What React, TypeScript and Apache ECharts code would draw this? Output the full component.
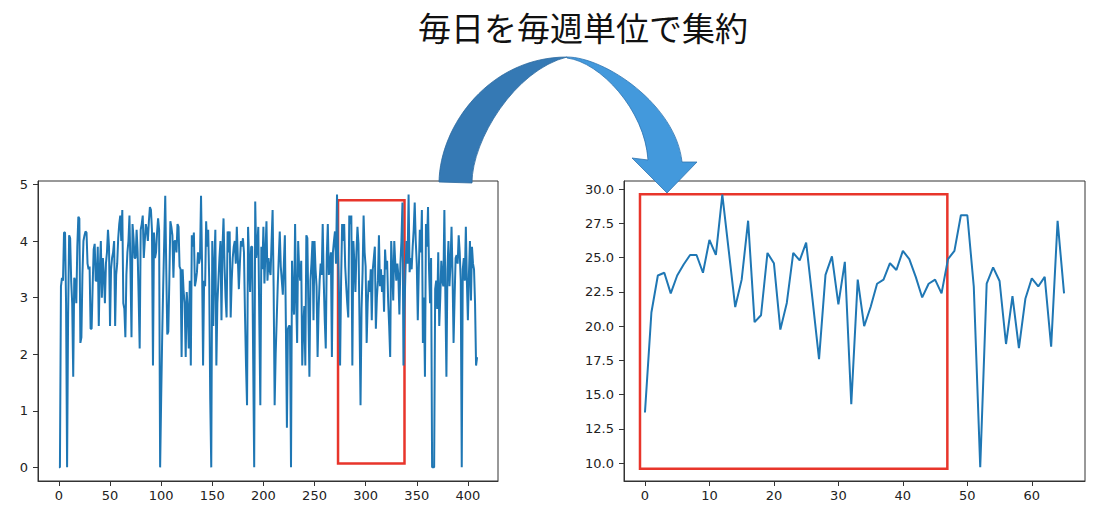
import React, { useEffect, useRef } from "react";
import * as echarts from "echarts";

// ---- data ----
const TITLE = "毎日を毎週単位で集約";

const dailyA = [
  0, 0, 3.2, 3.35, 3.3, 4.15, 4.15, 2.9, 0, 2.7,
  4.1, 4.05, 3.3, 2.9, 1.6, 3.35, 3.3, 2.9, 3.9, 4.43,
  4.4, 2.2, 2.3, 3.4, 4.0, 4.1, 4.17, 4.15, 3.6, 3.5,
  3.55, 2.45, 2.45, 3.2, 3.85, 3.95, 3.3, 3.3, 3.9, 2.5,
  3.5, 4.0, 3.0, 3.7, 3.4, 2.9, 3.6, 3.8, 4.2, 3.9,
  2.5, 3.5, 3.7, 3.8, 4.0, 2.5, 3.4, 3.6, 4.05, 4.3,
  4.45, 4.0, 4.55, 2.9, 2.8, 2.3, 3.4, 3.8, 4.0, 4.45,
  3.5, 2.3, 4.3, 4.05, 3.7, 3.7, 4.2, 3.8, 3.0, 2.1,
  4.2, 4.3, 4.45, 3.7, 4.0, 4.3, 4.2, 4.0, 4.35, 4.6,
  4.55, 4.2, 1.8, 4.15, 3.7, 3.8, 4.15, 4.4, 4.2, 0,
];
const dailyB = [
  1.2, 2.3, 3.2, 4.0, 4.8, 3.5, 2.35, 2.4, 3.3, 4.35,
  4.25, 4.1, 3.35, 4.0, 4.0, 3.8, 4.3, 4.25, 3.55, 3.5,
  1.95, 3.5, 3.1, 2.9, 1.95, 3.1, 2.8, 2.1, 3.3, 1.8,
  4.1, 3.9, 4.15, 3.2, 3.3, 3.45, 3.8, 3.6, 3.7, 4.8,
  3.6, 1.8, 3.3, 3.2, 4.35, 3.9, 4.2, 3.3, 1.2, 0,
  4.0, 2.5, 3.6, 4.2, 1.8, 2.9, 3.3, 3.7, 4.0, 2.6,
  3.9, 4.4, 3.55, 3.0, 2.65, 4.17, 3.8, 4.17, 2.65, 3.3,
  3.7, 3.9, 4.0, 3.6, 4.25, 3.7, 3.15, 3.6, 4.0, 3.9,
  4.05, 3.8, 2.7, 1.8, 1.1, 4.25, 3.7, 3.1, 3.9, 3.9,
  1.9, 0, 4.7, 3.7, 3.9, 4.25, 2.6, 1.1, 3.9, 3.5,
];
const dailyC = [
  4.25, 3.25, 3.8, 4.35, 3.3, 3.7, 3.5, 3.4, 4.0, 4.55,
  3.2, 1.1, 2.0, 2.6, 3.2, 3.7, 4.17, 3.55, 3.3, 3.05,
  3.6, 4.1, 2.5, 0.7, 2.45, 2.5, 2.5, 0, 3.65, 3.0,
  2.7, 4.3, 3.0, 2.2, 4.0, 3.5, 3.3, 3.65, 1.8, 2.5,
  2.85, 1.8, 4.1, 4.05, 2.8, 1.6, 3.3, 3.6, 4.0, 2.6,
  4.0, 3.5, 3.2, 1.95, 2.8, 3.3, 3.6, 3.4, 4.3, 3.3,
  2.6, 2.1, 3.75, 4.3, 3.4, 3.6, 3.8, 1.95, 3.8, 4.0,
  4.17, 3.6, 4.82, 3.8, 3.0, 1.8, 3.3, 4.3, 4.0, 4.3,
  3.55, 3.2, 2.9, 2.65, 4.45, 4.3, 4.45, 1.8, 4.0, 3.6,
  3.1, 3.8, 4.25, 3.95, 2.6, 1.1, 2.8, 3.45, 4.45, 3.8,
];
const dailyD = [
  3.55, 2.2, 2.9, 3.3, 3.1, 3.5, 2.6, 3.5, 3.7, 3.9,
  2.45, 3.0, 3.3, 4.1, 3.2, 3.5, 3.1, 3.4, 2.75, 3.85,
  3.5, 3.65, 2.95, 2.5, 1.95, 4.0, 3.5, 2.95, 4.0, 3.6,
  3.3, 3.6, 3.4, 2.7, 3.6, 4.0, 4.68, 1.8, 2.8, 3.5,
  4.0, 3.6, 4.82, 3.45, 3.7, 3.5, 3.9, 4.2, 4.68, 4.0,
  3.6, 2.6, 3.5, 4.2, 3.8, 4.55, 2.2, 3.0, 1.6, 4.3,
  3.9, 4.6, 3.5, 2.9, 3.7, 0, 0, 0, 3.15, 3.3,
  2.8, 3.8, 2.5, 3.0, 3.65, 3.3, 3.2, 4.55, 3.0, 1.6,
  3.5, 4.0, 3.2, 3.6, 4.25, 3.4, 2.2, 3.0, 3.7, 3.75,
  3.6, 4.1, 3.8, 3.3, 0, 3.5, 3.7, 3.3, 4.25, 3.3,
  2.6, 3.4, 4.0, 2.95, 3.9, 3.6, 3.5, 2.9, 1.8, 1.95,
];
const dailyValues = [...dailyA, ...dailyB, ...dailyC, ...dailyD];

const weeklyValues = [
  13.7, 21.0, 23.7, 23.9, 22.4, 23.7, 24.5, 25.2, 25.2, 23.9,
  26.3, 25.2, 29.6, 25.5, 21.4, 23.4, 27.7, 20.3, 20.8, 25.35,
  24.6, 19.75, 21.7, 25.35, 24.8, 26.1, 21.9, 17.6, 23.75, 25.1,
  21.6, 24.7, 14.3, 23.4, 20.0, 21.4, 23.1, 23.4, 24.6, 24.1,
  25.5, 24.9, 23.6, 22.1, 23.1, 23.4, 22.4, 24.9, 25.5, 28.1,
  28.1, 22.9, 9.7, 23.1, 24.3, 23.3, 18.7, 22.2, 18.4, 22.0,
  23.5, 22.9, 23.6, 18.5, 27.7, 22.4,
];

const dailyXTicks = [0, 50, 100, 150, 200, 250, 300, 350, 400];
const dailyYTicks = [0, 1, 2, 3, 4, 5];
const weeklyXTicks = [0, 10, 20, 30, 40, 50, 60];
const weeklyYTicks = [10, 12.5, 15, 17.5, 20, 22.5, 25, 27.5, 30];

// highlighted ranges (data coordinates)
const dailyBox = [[273, 4.72], [338, 0.07]];
const weeklyBox = [[-0.77, 29.63], [46.9, 9.6]];

// curved arrow outline (page pixels)
const ARROW_BACK = "M 439 182 C 440 125 490 57 567 57 C 515 70 472 140 472 183 Z";
const ARROW_FRONT =
  "M 567 57 C 605 57 676 105 682 162 L 697 162 L 667 193 L 632 158 L 648 160 C 645 110 600 62 567 58 Z";

echarts.graphic.registerShape("arrowBack", echarts.graphic.extendPath(ARROW_BACK, {}));
echarts.graphic.registerShape("arrowFront", echarts.graphic.extendPath(ARROW_FRONT, {}));

const LABEL_FONT = "DejaVu Sans";
const AXIS_COLOR = "#333";
const LABEL_COLOR = "#222";
const LINE_COLOR = "#1f77b4";
const BOX_COLOR = "#e8352b";

function axisBase(ticks: number[], margin: number, fmt?: (v: number) => string) {
  return {
    type: "value",
    splitLine: { show: false },
    axisLine: { show: true, onZero: false, lineStyle: { color: AXIS_COLOR, width: 1 } },
    axisTick: {
      show: true,
      inside: false,
      length: 5,
      customValues: ticks,
      lineStyle: { color: AXIS_COLOR, width: 1 },
    },
    axisLabel: {
      show: true,
      customValues: ticks,
      margin,
      fontSize: 13,
      fontFamily: LABEL_FONT,
      color: LABEL_COLOR,
      formatter: fmt ? (v: number) => fmt(v) : (v: number) => String(v),
    },
  };
}

export default function App() {
  const ref = useRef<HTMLDivElement>(null);

  useEffect(() => {
    if (!ref.current) return;
    const chart = echarts.init(ref.current, null, { renderer: "svg" });

    const option: any = {
      animation: false,
      backgroundColor: "#ffffff",
      grid: [
        {
          left: 38, top: 181, width: 460, height: 300,
          show: true, borderColor: AXIS_COLOR, borderWidth: 1, backgroundColor: "#fff",
        },
        {
          left: 624, top: 181, width: 461, height: 300,
          show: true, borderColor: AXIS_COLOR, borderWidth: 1, backgroundColor: "#fff",
        },
      ],
      xAxis: [
        { ...axisBase(dailyXTicks, 8), gridIndex: 0, min: -20.45, max: 429.45 },
        { ...axisBase(weeklyXTicks, 8), gridIndex: 1, min: -3.25, max: 68.25 },
      ],
      yAxis: [
        { ...axisBase(dailyYTicks, 10), gridIndex: 0, min: -0.241, max: 5.061 },
        {
          ...axisBase(weeklyYTicks, 10, (v) => v.toFixed(1)),
          gridIndex: 1, min: 8.7, max: 30.6,
        },
      ],
      series: [
        {
          type: "line",
          xAxisIndex: 0,
          yAxisIndex: 0,
          data: dailyValues.map((v, i) => [i, v]),
          showSymbol: false,
          symbol: "none",
          lineStyle: { color: LINE_COLOR, width: 2 },
          itemStyle: { color: LINE_COLOR },
          markArea: {
            silent: true,
            itemStyle: { color: "rgba(0,0,0,0)", borderColor: BOX_COLOR, borderWidth: 2.5 },
            data: [[{ coord: dailyBox[0] }, { coord: dailyBox[1] }]],
          },
        },
        {
          type: "line",
          xAxisIndex: 1,
          yAxisIndex: 1,
          data: weeklyValues.map((v, i) => [i, v]),
          showSymbol: false,
          symbol: "none",
          lineStyle: { color: LINE_COLOR, width: 2 },
          itemStyle: { color: LINE_COLOR },
          markArea: {
            silent: true,
            itemStyle: { color: "rgba(0,0,0,0)", borderColor: BOX_COLOR, borderWidth: 2.5 },
            data: [[{ coord: weeklyBox[0] }, { coord: weeklyBox[1] }]],
          },
        },
      ],
      graphic: {
        elements: [
          {
            type: "text",
            x: 583,
            y: 27,
            z: 100,
            style: {
              text: TITLE,
              fontSize: 33,
              fontFamily: '"Noto Sans CJK JP", sans-serif',
              fill: "#111",
              align: "center",
              verticalAlign: "middle",
            },
          },
          {
            type: "arrowBack",
            x: 0,
            y: 0,
            z: 100,
            style: { fill: "#3579b4", stroke: "#2c6aa0", lineWidth: 0.8 },
          },
          {
            type: "arrowFront",
            x: 0,
            y: 0,
            z: 100,
            style: { fill: "#4399dc", stroke: "#2f73b0", lineWidth: 0.8 },
          },
        ],
      },
    };

    chart.setOption(option);
    return () => chart.dispose();
  }, []);

  return (
    <div
      ref={ref}
      style={{ position: "fixed", left: 0, top: 0, width: 1110, height: 530, background: "#fff" }}
    />
  );
}
